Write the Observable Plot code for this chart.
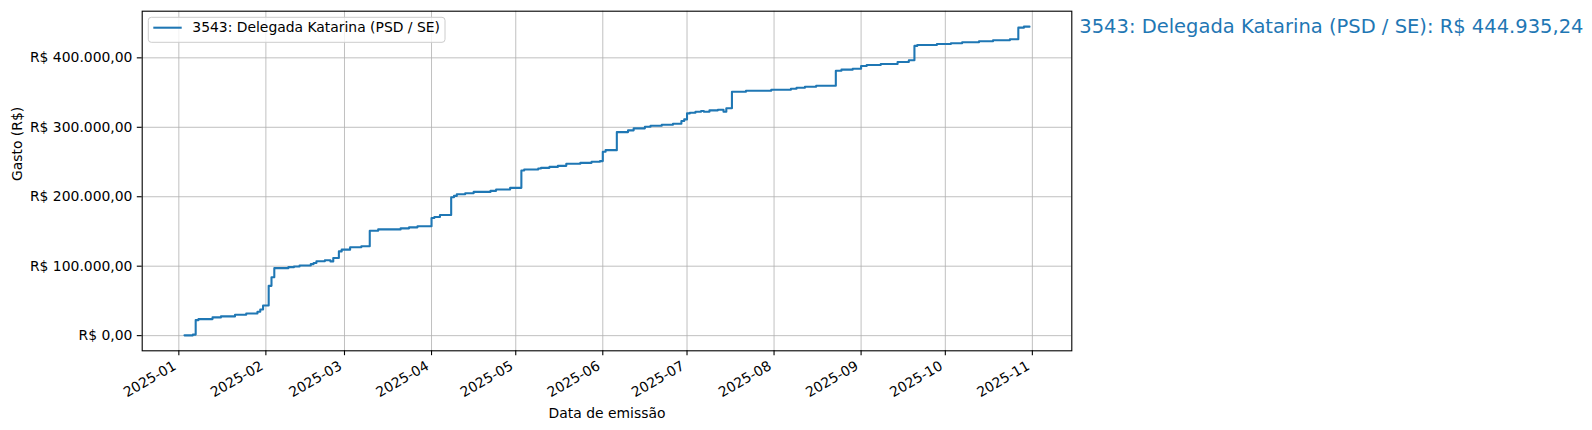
<!DOCTYPE html>
<html>
<head>
<meta charset="utf-8">
<script src="https://cdn.jsdelivr.net/npm/d3@7"></script>
<script src="https://cdn.jsdelivr.net/npm/@observablehq/plot@0.6"></script>
<style>
  html, body { margin: 0; padding: 0; background: #fff; }
</style>
</head>
<body>
<div id="chart"></div>
<script>
// ---- data ----
const dates = [
  "2025-01-03","2025-01-06","2025-01-07","2025-01-08","2025-01-13","2025-01-16","2025-01-21","2025-01-25","2025-01-29","2025-01-30","2025-01-31",
  "2025-02-02","2025-02-03","2025-02-04","2025-02-09","2025-02-11","2025-02-13","2025-02-17","2025-02-18","2025-02-19","2025-02-22","2025-02-24","2025-02-25","2025-02-27","2025-02-28",
  "2025-03-03","2025-03-07","2025-03-10","2025-03-13","2025-03-21","2025-03-24","2025-03-27",
  "2025-04-01","2025-04-02","2025-04-04","2025-04-08","2025-04-09","2025-04-10","2025-04-13","2025-04-16","2025-04-22","2025-04-24","2025-04-29",
  "2025-05-03","2025-05-04","2025-05-09","2025-05-10","2025-05-13","2025-05-16","2025-05-19","2025-05-24","2025-05-28","2025-05-31",
  "2025-06-01","2025-06-02","2025-06-06","2025-06-10","2025-06-12","2025-06-16","2025-06-18","2025-06-22","2025-06-26","2025-06-29","2025-06-30",
  "2025-07-01","2025-07-02","2025-07-04","2025-07-06","2025-07-07","2025-07-09","2025-07-12","2025-07-14","2025-07-15","2025-07-17","2025-07-22","2025-07-31",
  "2025-08-07","2025-08-09","2025-08-12","2025-08-16","2025-08-23","2025-08-25","2025-08-29",
  "2025-09-01","2025-09-03","2025-09-08","2025-09-14","2025-09-18","2025-09-20","2025-09-21","2025-09-28",
  "2025-10-03","2025-10-07","2025-10-13","2025-10-18","2025-10-24","2025-10-27","2025-10-29","2025-10-31"
];
const gastos = [
  400, 1500, 22400, 23800, 26300, 27700, 30100, 31900, 34300, 37600, 43400,
  71700, 84200, 97200, 98600, 99600, 101000, 103000, 104700, 107200, 108600, 106900, 111700, 121300, 123800,
  127200, 128600, 151100, 153000, 154500, 155900, 157400,
  169400, 170800, 173700, 199300, 201200, 203700, 205100, 207000, 208500, 210500, 212800,
  237900, 239300, 240700, 241600, 243000, 244500, 247400, 248800, 250300, 251300,
  264700, 267100, 293100, 295600, 298500, 300800, 302200, 303700, 305100, 309000, 311400,
  320000, 321000, 322400, 323400, 322400, 324400, 325300, 322400, 327300, 351300, 352700, 354100,
  355600, 357000, 358400, 359900, 381500, 383000, 384400,
  388300, 389700, 391200, 394100, 396500, 417200, 418600, 420000,
  421100, 422500, 423900, 425400, 426800, 443500, 444935.24, 444935.24
];
const monthTicks = ["2025-01-01","2025-02-01","2025-03-01","2025-04-01","2025-05-01","2025-06-01",
                    "2025-07-01","2025-08-01","2025-09-01","2025-10-01","2025-11-01"];
const yTicks = [0, 100000, 200000, 300000, 400000];
const seriesName = "3543: Delegada Katarina (PSD / SE)";
const xLabel = "Data de emissão";
const yLabel = "Gasto (R$)";

// ---- build ----
const locale = d3.formatLocale({decimal: ",", thousands: ".", grouping: [3], currency: ["R$ ", ""]});
const brl = locale.format("$,.2f");
const parse = d3.utcParse("%Y-%m-%d");
const data = dates.map((d, i) => ({date: parse(d), value: gastos[i]}));
const ticks = monthTicks.map(parse);

const t0 = data[0].date, t1 = data[data.length - 1].date;
const xPad = (t1 - t0) * 0.05;
const xDomain = [new Date(+t0 - xPad), new Date(+t1 + xPad)];
const vmin = d3.min(gastos), vmax = d3.max(gastos);
const yPad = (vmax - vmin) * 0.05;
const yDomain = [vmin - yPad, vmax + yPad];

const W = 1592, H = 430;
const mL = 141.7, mR = W - 1071.3, mT = 10.7, mB = H - 350.3;
const blue = "#1f77b4";
const annot = `${seriesName}: ${brl(gastos[gastos.length - 1])}`;

const chart = Plot.plot({
  width: W, height: H,
  marginLeft: mL, marginRight: mR, marginTop: mT, marginBottom: mB,
  style: {fontFamily: "'DejaVu Sans', sans-serif", fontSize: "13.9px", background: "#fff", color: "#000", overflow: "visible"},
  x: {type: "utc", domain: xDomain, label: null},
  y: {domain: yDomain, label: null},
  marks: [
    Plot.gridX(ticks, {stroke: "#b0b0b0", strokeOpacity: 1, strokeWidth: 0.8}),
    Plot.gridY(yTicks, {stroke: "#b0b0b0", strokeOpacity: 1, strokeWidth: 0.8}),
    Plot.line(data, {x: "date", y: "value", curve: "step-after", stroke: blue, strokeWidth: 2.08}),
    Plot.frame({stroke: "#000", strokeWidth: 1.1}),
    Plot.axisX(ticks, {tickSize: 4.9, tickFormat: () => "", strokeWidth: 1.1, label: null}),
    Plot.text(ticks, {x: d => d, frameAnchor: "bottom", dy: 13.9, dx: -3.9, rotate: -30,
      textAnchor: "end", lineAnchor: "middle", text: d3.utcFormat("%Y-%m"), fill: "#000", fontSize: 13.9}),
    Plot.axisY(yTicks, {tickSize: 4.9, tickPadding: 4.9, tickFormat: brl, strokeWidth: 1.1, label: null, fontSize: 13.9}),
    Plot.text([yLabel], {frameAnchor: "left", dx: 17 - mL, rotate: -90, lineAnchor: "middle", text: d => d, fill: "#000", fontSize: 13.9}),
    Plot.text([xLabel], {frameAnchor: "bottom", dy: 63.2, lineAnchor: "middle", text: d => d, fill: "#000", fontSize: 13.9}),
    Plot.text([annot], {frameAnchor: "top-right", dx: 7.5, dy: 15.1, textAnchor: "start", lineAnchor: "middle", text: d => d, fill: blue, fontSize: 19.5})
  ]
});

// legend (matplotlib-style, upper left inside axes)
const svg = d3.select(chart);
const lg = svg.append("g").attr("text-anchor", "start");
lg.append("rect").attr("x", 148.3).attr("y", 17.3).attr("width", 296.7).attr("height", 25)
  .attr("rx", 3).attr("fill", "#fff").attr("fill-opacity", 0.8).attr("stroke", "#cccccc").attr("stroke-width", 1);
lg.append("line").attr("x1", 153.3).attr("x2", 181.7).attr("y1", 27.7).attr("y2", 27.7)
  .attr("stroke", blue).attr("stroke-width", 2.08);
lg.append("text").attr("x", 192.3).attr("y", 32.3).attr("font-size", 13.9).attr("fill", "#000")
  .attr("text-anchor", "start").text(seriesName);

document.getElementById("chart").appendChild(chart);
</script>
</body>
</html>
